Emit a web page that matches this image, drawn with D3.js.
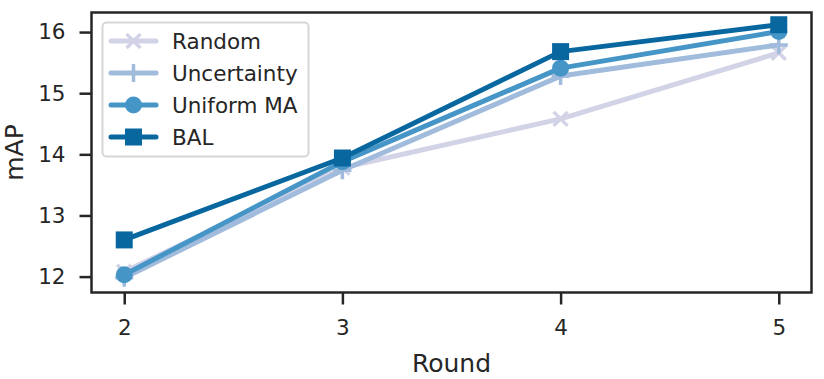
<!DOCTYPE html>
<html>
<head>
<meta charset="utf-8">
<script src="https://cdn.jsdelivr.net/npm/d3@7"></script>
<style>
  body { margin: 0; background: #fff; }
  text { font-family: "DejaVu Sans", sans-serif; fill: #262626; }
</style>
</head>
<body>
<svg id="chart"></svg>
<script>
// mAP per active learning round
const rounds = [2, 3, 4, 5];
const random = [12.08, 13.78, 14.58, 15.66];
const uncertainty = [11.98, 13.74, 15.28, 15.79];
const uniformMA = [12.03, 13.88, 15.41, 16.01];
const bal = [12.60, 13.94, 15.68, 16.12];
const names = ["Random", "Uncertainty", "Uniform MA", "BAL"];
const colors = ["#d3d3e8", "#a0bbdb", "#4695c7", "#08679f"];
const yTicks = [12, 13, 14, 15, 16];

const width = 824, height = 379;
const plotLeft = 91.5, plotRight = 811.5, plotTop = 12.5, plotBottom = 292.5;

const svg = d3.select("#chart").attr("width", width).attr("height", height);

const x = d3.scaleLinear().domain([1.85, 5.15]).range([plotLeft, plotRight]);
const y = d3.scaleLinear().domain([11.74, 16.32]).range([plotBottom, plotTop]);

// axes
const xAxis = svg.append("g")
    .attr("transform", `translate(0,${plotBottom})`)
    .call(d3.axisBottom(x).tickValues(rounds).tickFormat(d3.format("d")).tickSize(12).tickPadding(15));
const yAxis = svg.append("g")
    .attr("transform", `translate(${plotLeft},0)`)
    .call(d3.axisLeft(y).tickValues(yTicks).tickFormat(d3.format("d")).tickSize(12).tickPadding(14));
[xAxis, yAxis].forEach(a => {
    a.select(".domain").remove();
    a.selectAll(".tick line").attr("stroke", "#262626").attr("stroke-width", 2.5);
    a.selectAll(".tick text").attr("font-size", 21.5).attr("font-family", "DejaVu Sans").attr("fill", "#262626");
});

const series = [random, uncertainty, uniformMA, bal];

const line = d3.line().x((d, i) => x(rounds[i])).y(d => y(d));

function marker(g, k, color) {
    if (k === 0) {
        g.append("path").attr("d", "M-7,-7L7,7M-7,7L7,-7")
            .attr("stroke", color).attr("stroke-width", 3.5).attr("fill", "none");
    } else if (k === 1) {
        g.append("path").attr("d", "M-9,0L9,0M0,-9L0,9")
            .attr("stroke", color).attr("stroke-width", 3.5).attr("fill", "none");
    } else if (k === 2) {
        g.append("circle").attr("r", 8.5).attr("fill", color);
    } else {
        g.append("rect").attr("x", -8.5).attr("y", -8.5).attr("width", 17).attr("height", 17).attr("fill", color);
    }
}

series.forEach((vals, k) => {
    svg.append("path")
        .datum(vals)
        .attr("d", line)
        .attr("fill", "none")
        .attr("stroke", colors[k])
        .attr("stroke-width", 5)
        .attr("stroke-linejoin", "round");
    vals.forEach((v, i) => {
        const g = svg.append("g").attr("transform", `translate(${x(rounds[i])},${y(v)})`);
        marker(g, k, colors[k]);
    });
});

// frame
svg.append("rect")
    .attr("x", plotLeft).attr("y", plotTop)
    .attr("width", plotRight - plotLeft).attr("height", plotBottom - plotTop)
    .attr("fill", "none").attr("stroke", "#262626").attr("stroke-width", 2.5);

// legend
const legend = svg.append("g");
legend.append("rect")
    .attr("x", 102.5).attr("y", 22.5).attr("width", 206).attr("height", 134).attr("rx", 4)
    .attr("fill", "#fff").attr("fill-opacity", 0.8)
    .attr("stroke", "#d6d6d6").attr("stroke-width", 2);
names.forEach((n, k) => {
    const yy = 41 + k * 32;
    legend.append("line")
        .attr("x1", 111).attr("x2", 156).attr("y1", yy).attr("y2", yy)
        .attr("stroke", colors[k]).attr("stroke-width", 5).attr("stroke-linecap", "round");
    marker(legend.append("g").attr("transform", `translate(133.5,${yy})`), k, colors[k]);
    legend.append("text")
        .attr("x", 172).attr("y", yy).attr("dy", "0.35em")
        .attr("font-size", 21.5)
        .text(n);
});

// axis titles
svg.append("text")
    .attr("x", (plotLeft + plotRight) / 2).attr("y", 372)
    .attr("text-anchor", "middle").attr("font-size", 25)
    .text("Round");
svg.append("text")
    .attr("transform", `translate(23,${(plotTop + plotBottom) / 2}) rotate(-90)`)
    .attr("text-anchor", "middle").attr("font-size", 25)
    .text("mAP");
</script>
</body>
</html>
